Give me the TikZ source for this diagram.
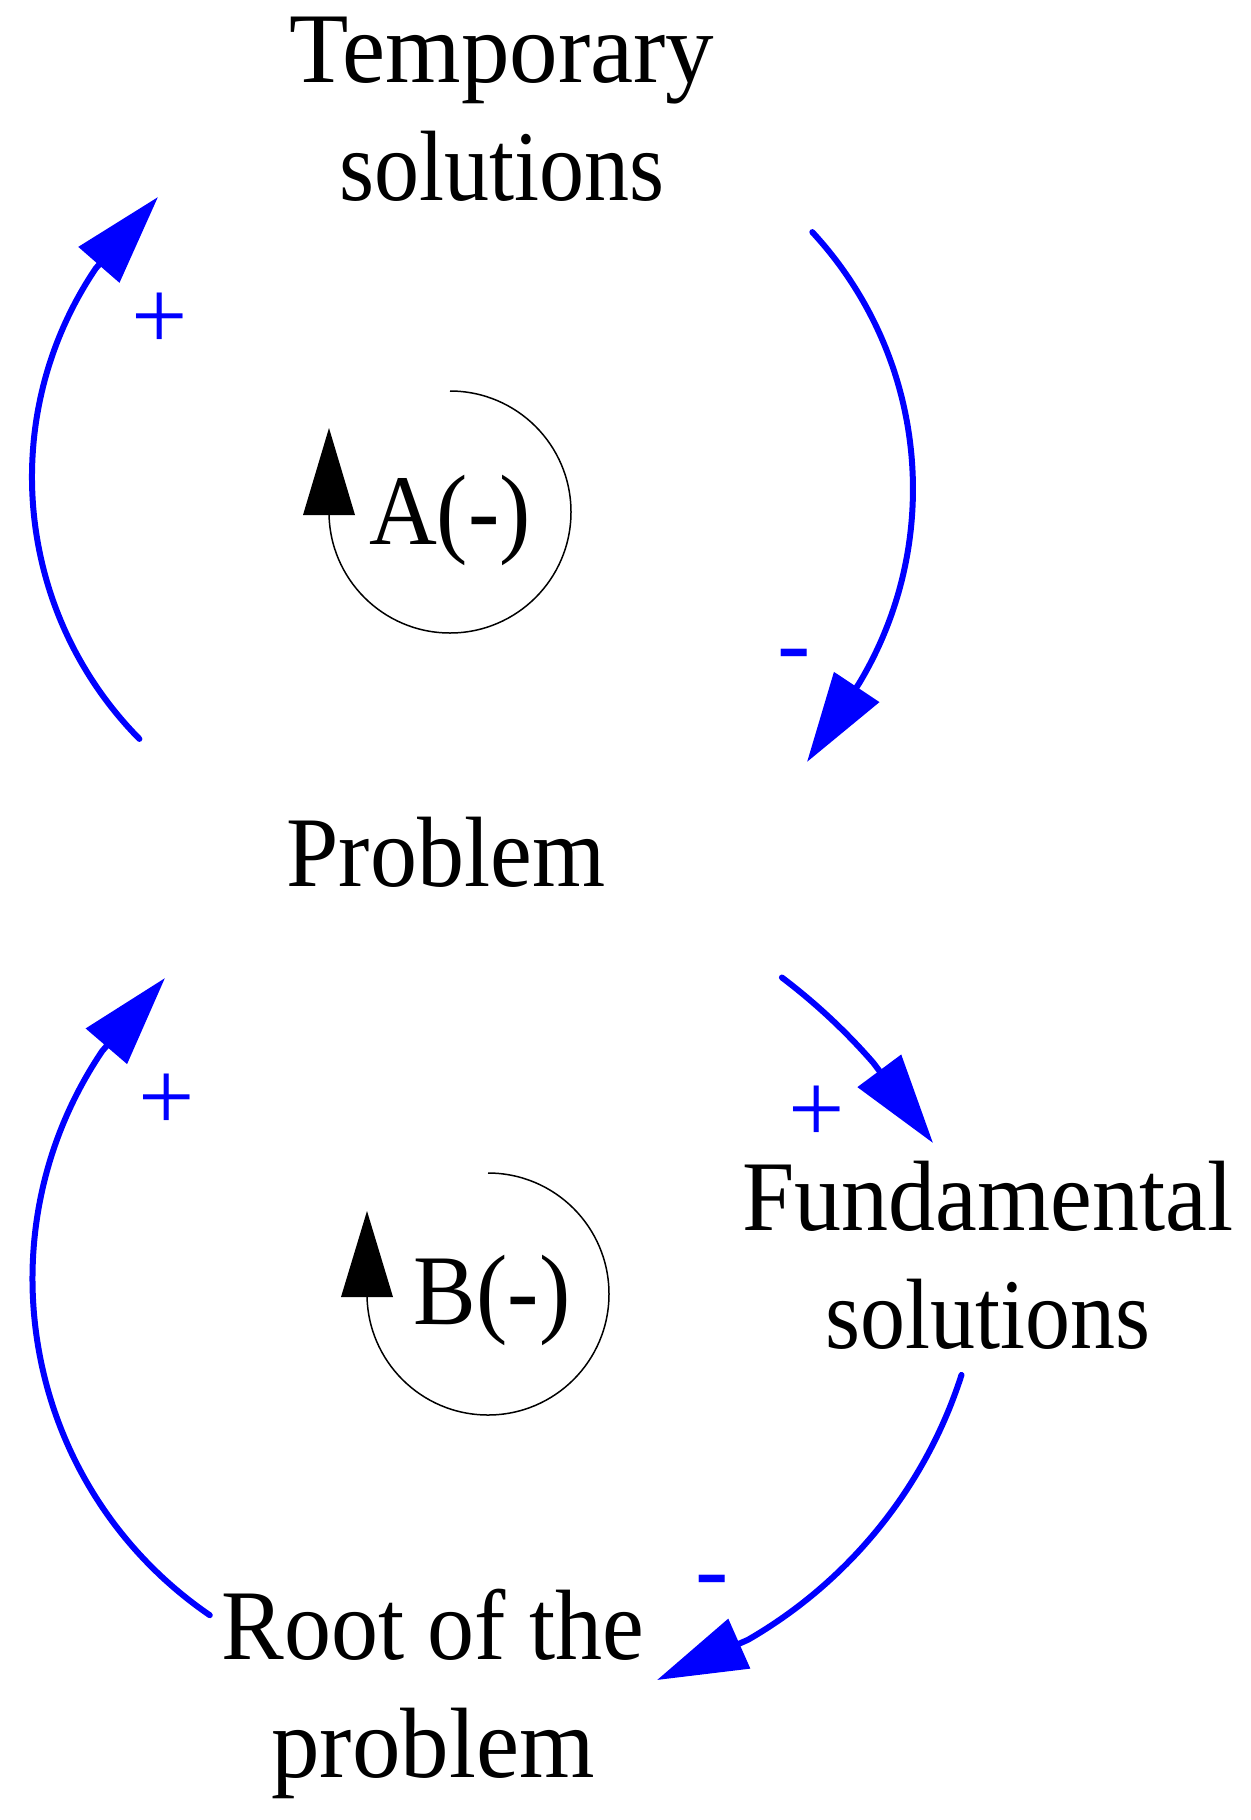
\documentclass[tikz,border=0pt]{standalone}
\usepackage{fontspec}
\setmainfont{Liberation Serif}
\newfontfamily\labfont[FakeStretch=0.94]{Liberation Serif}
\newfontfamily\solfont[FakeStretch=0.90]{Liberation Serif}
\newfontfamily\widefont[FakeStretch=0.97]{Liberation Serif}
\usetikzlibrary{arrows.meta}
\definecolor{linkblue}{RGB}{0,0,255}
\begin{document}
\begin{tikzpicture}[x=0.5pt,y=-0.5pt,
  lbl/.style={font=\labfont\fontsize{50pt}{59pt}\selectfont, inner sep=0pt, align=center, anchor=base},
  sign/.style={font=\fontsize{50pt}{59pt}\selectfont, text=linkblue, inner sep=0pt, anchor=base},
  link/.style={draw=linkblue, line width=3pt, line cap=round, -{Triangle[length=45pt,width=26.5pt]}},
  loopline/.style={draw=black, line width=0.75pt},
  loophead/.style={fill=black}]
\useasboundingbox[fill=white] (0,0) rectangle (1251,1820);
% variables (base anchor = baseline of last line)
\node[lbl] (temp) at (502,200) {{\widefont Temporary}\\{\solfont solutions}};
\node[lbl] (prob) at (446,886) {Problem};
\node[lbl] (fund) at (988,1348) {Fundamental\\{\solfont solutions}};
\node[lbl] (root) at (433,1777) {Root of the\\{\widefont problem}};
% loop labels
\node[lbl] (loopA) at (450,544) {A(-)};
\node[lbl] (loopB) at (492,1324) {B(-)};
% connector end points
\coordinate (pA1) at (139.4,738.9);
\coordinate (tA1) at (158,197);
\coordinate (pA2) at (812.3,232.1);
\coordinate (tA2) at (807,762);
\coordinate (pB1) at (781.9,977.5);
\coordinate (tB1) at (933,1143);
\coordinate (pB2) at (961.5,1374.9);
\coordinate (tB2) at (657,1680);
\coordinate (pB3) at (209.8,1615.2);
\coordinate (tB3) at (165,978);
% connectors: circular arcs, last stretch straight into the arrowhead
\draw[link] (pA1) arc[start angle=135.4,end angle=214,radius=373] -- (tA1);
\draw[link] (pA2) arc[start angle=-42.8,end angle=31,radius=378] -- (tA2);
\draw[link] (pB1) arc[start angle=-52.9,end angle=-41,radius=605] -- (tB1);
\draw[link] (pB2) arc[start angle=17.75,end angle=60,radius=472] -- (tB2);
\draw[link] (pB3) arc[start angle=124.4,end angle=214,radius=407.5] -- (tB3);
% polarity signs
\node[sign] (sA1) at (160,349) {+};
\node[sign] (sA2) at (794,676) {-};
\node[sign] (sB1) at (817,1142) {+};
\node[sign] (sB2) at (712,1602) {-};
\node[sign] (sB3) at (167,1130) {+};
% loop markers
\coordinate (Atop) at (450,391);
\draw[loopline] (Atop) arc[start angle=-90,end angle=180,radius=121];
\fill[loophead] (303,515) -- (329,428) -- (355,515) -- cycle;
\coordinate (Btop) at (488,1173);
\draw[loopline] (Btop) arc[start angle=-90,end angle=180,radius=121];
\fill[loophead] (341,1297) -- (367,1211) -- (393,1297) -- cycle;
\end{tikzpicture}
\end{document}
